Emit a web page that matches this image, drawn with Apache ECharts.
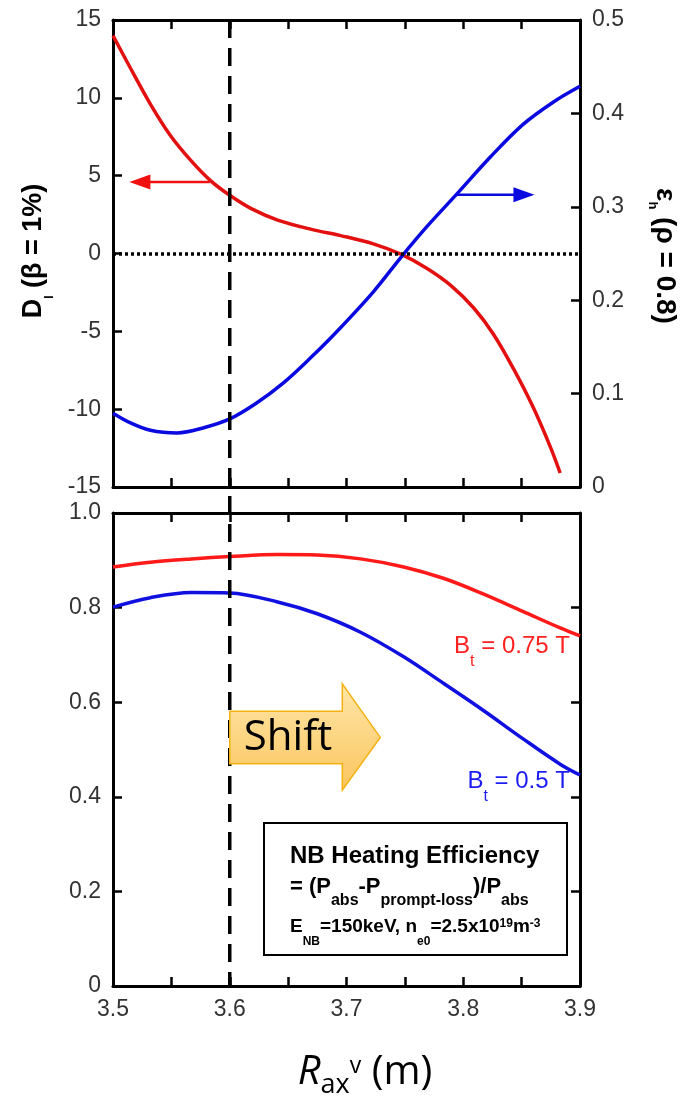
<!DOCTYPE html>
<html>
<head>
<meta charset="utf-8">
<script src="https://cdn.jsdelivr.net/npm/echarts@6/dist/echarts.min.js"></script>
<style>
html, body { margin: 0; padding: 0; background: #fff; }
#chart { width: 688px; height: 1097px; }
</style>
</head>
<body>
<div id="chart"></div>
<script>
// upper panel: D_I (left axis) and eps_h (right axis) vs R_ax
const rD = [3.5, 3.515, 3.532, 3.549, 3.567, 3.584, 3.6, 3.618, 3.641, 3.67, 3.695, 3.723, 3.747, 3.769, 3.789, 3.809, 3.826, 3.843, 3.86, 3.875, 3.883];
const dI = [14.0, 11.9, 9.6, 7.6, 5.95, 4.65, 3.74, 2.9, 2.15, 1.55, 1.15, 0.62, -0.06, -0.96, -2.03, -3.5, -5.2, -7.4, -9.9, -12.5, -14.1];
const rEps = [3.5, 3.515, 3.532, 3.555, 3.577, 3.6, 3.623, 3.646, 3.669, 3.692, 3.723, 3.747, 3.769, 3.794, 3.823, 3.851, 3.877, 3.9];
const epsH = [0.079, 0.0686, 0.0607, 0.0579, 0.0632, 0.0729, 0.09, 0.1115, 0.138, 0.1668, 0.209, 0.2465, 0.279, 0.313, 0.353, 0.388, 0.412, 0.429];

// lower panel: NB heating efficiency
const rEff = [3.5, 3.532, 3.567, 3.6, 3.641, 3.675, 3.712, 3.749, 3.783, 3.817, 3.851, 3.883, 3.9];
const eff075 = [0.886, 0.896, 0.903, 0.908, 0.912, 0.911, 0.903, 0.886, 0.862, 0.829, 0.792, 0.757, 0.740];
const eff05 = [0.801, 0.821, 0.832, 0.831, 0.812, 0.787, 0.748, 0.696, 0.640, 0.583, 0.523, 0.469, 0.446];

// annotations (data units)
const rShift = 3.6;
const dArrow = [[3.583, 4.6], [3.514, 4.6]];
const epsArrow = [[3.794, 0.313], [3.861, 0.313]];
const shiftBody = { x0: 3.6, x1: 3.6964, tip: 3.7289, top: 0.581, bottom: 0.470, headTop: 0.639, headBottom: 0.414, mid: 0.5255 };
const btLabels = [
  { text: ' = 0.75 T', x: 3.8914, y: 0.70, color: '#ff2020' },
  { text: ' = 0.5 T', x: 3.8914, y: 0.414, color: '#1c1cf0' }
];

const SANS = '"Liberation Sans", Arial, sans-serif';
const OPEN = '"Open Sans", sans-serif';
const MID = {};
MID[SANS] = 0.3465;
MID[OPEN] = 0.388;

const zip = (xs, ys) => xs.map((x, i) => [x, ys[i]]);
const oneDec = v => (v === 0 ? '0' : v.toFixed(1));

const chart = echarts.init(document.getElementById('chart'));

const AXLINE = { color: '#000', width: 3 };
const TICK = { color: '#000', width: 2.5 };
const LABEL = { color: '#333', fontSize: 23, fontFamily: SANS };

function xAx(grid, pos, show) {
  return {
    type: 'value', gridIndex: grid, position: pos,
    min: 3.5, max: 3.9, interval: 0.1,
    axisLine: { onZero: false, lineStyle: AXLINE },
    axisTick: { inside: true, length: 9, lineStyle: TICK },
    minorTick: { show: true, splitNumber: 2, length: 9, lineStyle: TICK },
    splitLine: { show: false },
    axisLabel: Object.assign({ show: show, margin: 12, formatter: v => v.toFixed(1) }, LABEL)
  };
}

function yAx(grid, pos, min, max, step, show, fmt) {
  return {
    type: 'value', gridIndex: grid, position: pos,
    min: min, max: max, interval: step,
    axisLine: { onZero: false, lineStyle: AXLINE },
    axisTick: { inside: true, length: 9, lineStyle: TICK },
    splitLine: { show: false },
    axisLabel: Object.assign({ show: show, margin: 12, formatter: fmt }, LABEL)
  };
}

function curve(name, xi, yi, data, color) {
  return {
    name: name, type: 'line', xAxisIndex: xi, yAxisIndex: yi,
    data: data, smooth: 0.35, showSymbol: false,
    lineStyle: { color: color, width: 3.5 }
  };
}

const dSeries = curve('D_I', 0, 0, zip(rD, dI), '#e31010');
dSeries.markLine = {
  silent: true, symbol: 'none', label: { show: false },
  lineStyle: { color: '#000', type: [3, 3], width: 3.5 },
  data: [{ yAxis: 0 }]
};

const option = {
  animation: false,
  backgroundColor: '#fff',
  grid: [
    { left: 113, right: 108, top: 20, height: 467 },
    { left: 113, right: 108, top: 513, height: 473 }
  ],
  xAxis: [
    xAx(0, 'bottom', false),
    xAx(0, 'top', false),
    xAx(1, 'bottom', true),
    xAx(1, 'top', false)
  ],
  yAxis: [
    yAx(0, 'left', -15, 15, 5, true, v => String(v)),
    yAx(0, 'right', 0, 0.5, 0.1, true, oneDec),
    yAx(1, 'left', 0, 1, 0.2, true, oneDec),
    yAx(1, 'right', 0, 1, 0.2, false, oneDec)
  ],
  series: [
    dSeries,
    curve('eps_h', 0, 1, zip(rEps, epsH), '#0a0ae0'),
    curve('Bt=0.75T', 2, 2, zip(rEff, eff075), '#ff1a1a'),
    curve('Bt=0.5T', 2, 2, zip(rEff, eff05), '#1010e0')
  ]
};

chart.setOption(option);

// ---- annotations ----
const mctx = document.createElement('canvas').getContext('2d');
function fontOf(s) {
  return (s.it ? 'italic ' : '') + (s.w || 'normal') + ' ' + s.size + 'px ' + (s.f || SANS);
}
// lay out a row of text pieces (sub/superscripts) with baseline at local y = 0
function row(segs, color, align, z) {
  let x = 0;
  const items = segs.map(s => {
    const font = fontOf(s);
    mctx.font = font;
    const it = { x: x, s: s, font: font };
    x += mctx.measureText(s.t).width;
    return it;
  });
  const off = align === 'center' ? -x / 2 : align === 'right' ? -x : 0;
  return items.map(it => ({
    type: 'text', z: z,
    x: it.x + off,
    y: (it.s.dy || 0) - MID[it.s.f || SANS] * it.s.size,
    style: { text: it.s.t, font: it.font, fill: it.s.c || color, textAlign: 'left', textVerticalAlign: 'middle' }
  }));
}

function arrow(p0, p1, color) {
  const dx = p1[0] - p0[0], dy = p1[1] - p0[1];
  const len = Math.hypot(dx, dy), ux = dx / len, uy = dy / len;
  const hl = 21, hw = 7.5;
  const bx = p1[0] - ux * hl, by = p1[1] - uy * hl;
  return [
    { type: 'line', z: 10, shape: { x1: p0[0], y1: p0[1], x2: bx + ux * 2, y2: by + uy * 2 }, style: { stroke: color, lineWidth: 2.5 } },
    { type: 'polygon', z: 10, shape: { points: [p1, [bx - uy * hw, by + ux * hw], [bx + uy * hw, by - ux * hw]] }, style: { fill: color } }
  ];
}

const toTop = p => chart.convertToPixel({ xAxisIndex: 0, yAxisIndex: 0 }, p);
const toTopR = p => chart.convertToPixel({ xAxisIndex: 0, yAxisIndex: 1 }, p);
const toBot = p => chart.convertToPixel({ xAxisIndex: 2, yAxisIndex: 2 }, p);

const dashTop = toTop([rShift, 15]);
const dashBot = toBot([rShift, 0]);

const sb = shiftBody;
const shiftPts = [
  [sb.x0, sb.top], [sb.x1, sb.top], [sb.x1, sb.headTop], [sb.tip, sb.mid],
  [sb.x1, sb.headBottom], [sb.x1, sb.bottom], [sb.x0, sb.bottom]
].map(toBot);
const shiftCenter = toBot([(sb.x0 + sb.x1) / 2, sb.mid]);

const graphics = [];

graphics.push({
  type: 'line', z: 5,
  shape: { x1: dashTop[0], y1: dashTop[1], x2: dashBot[0], y2: dashBot[1] },
  style: { stroke: '#000', lineWidth: 3.5, lineDash: [18, 10] }
});

arrow(toTop(dArrow[0]), toTop(dArrow[1]), '#f01010').forEach(e => graphics.push(e));
arrow(toTopR(epsArrow[0]), toTopR(epsArrow[1]), '#0a0ae0').forEach(e => graphics.push(e));

graphics.push({
  type: 'polygon', z: 6,
  shape: { points: shiftPts },
  style: {
    fill: new echarts.graphic.LinearGradient(0, 0, 0, 1, [
      { offset: 0, color: '#fee6a8' },
      { offset: 1, color: '#fbc55e' }
    ]),
    stroke: '#f3b212', lineWidth: 1.5
  }
});
graphics.push({
  type: 'text', z: 7, x: shiftCenter[0] + 2, y: shiftCenter[1] + 1,
  style: { text: 'Shift', font: 'normal 42px ' + OPEN, fill: '#000', textAlign: 'center', textVerticalAlign: 'middle' }
});

// B_t labels
btLabels.forEach(b => {
  const p = toBot([b.x, b.y]);
  graphics.push({
    type: 'group', x: p[0], y: p[1],
    children: row([
      { t: 'B', size: 24 },
      { t: 't', size: 16, dy: 12 },
      { t: b.text, size: 24 }
    ], b.color, 'right', 10)
  });
});

// info box
graphics.push({
  type: 'rect', z: 10,
  shape: { x: 264, y: 823, width: 303, height: 132 },
  style: { fill: '#fff', stroke: '#000', lineWidth: 2 }
});
graphics.push({
  type: 'group', x: 290, y: 865,
  children: row([{ t: 'NB Heating Efficiency', size: 24, w: 'bold' }], '#000', 'left', 12)
});
graphics.push({
  type: 'group', x: 290, y: 895,
  children: row([
    { t: '= (P', size: 22, w: 'bold' },
    { t: 'abs', size: 16, w: 'bold', dy: 11 },
    { t: '-P', size: 22, w: 'bold' },
    { t: 'prompt-loss', size: 16, w: 'bold', dy: 11 },
    { t: ')/P', size: 22, w: 'bold' },
    { t: 'abs', size: 16, w: 'bold', dy: 11 }
  ], '#000', 'left', 12)
});
graphics.push({
  type: 'group', x: 290, y: 933,
  children: row([
    { t: 'E', size: 19, w: 'bold' },
    { t: 'NB', size: 12, w: 'bold', dy: 13 },
    { t: '=150keV, n', size: 19, w: 'bold' },
    { t: 'e0', size: 12, w: 'bold', dy: 13 },
    { t: '=2.5x10', size: 19, w: 'bold' },
    { t: '19', size: 12, w: 'bold', dy: -5 },
    { t: 'm', size: 19, w: 'bold' },
    { t: '-3', size: 12, w: 'bold', dy: -5 }
  ], '#000', 'left', 12)
});

// axis titles
graphics.push({
  type: 'group', x: 43, y: 251, rotation: Math.PI / 2,
  children: row([
    { t: 'D', size: 27, w: 'bold' },
    { t: 'I', size: 12, w: 'bold', dy: 11 },
    { t: ' (\u03b2 = 1%)', size: 27, w: 'bold' }
  ], '#000', 'center', 10)
});
graphics.push({
  type: 'group', x: 655, y: 256, rotation: -Math.PI / 2,
  children: row([
    { t: '\u03b5', size: 28, w: 'bold' },
    { t: 'h', size: 13, w: 'bold', dy: 7 },
    { t: ' (\u03c1 = 0.8)', size: 28, w: 'bold' }
  ], '#000', 'center', 10)
});
graphics.push({
  type: 'group', x: 365, y: 1088,
  children: row([
    { t: 'R', size: 40, it: true, f: OPEN },
    { t: 'ax', size: 27, f: OPEN, dy: 8 },
    { t: 'v', size: 23, f: OPEN, dy: -13 },
    { t: ' (m)', size: 40, f: OPEN }
  ], '#000', 'center', 10)
});

chart.setOption({ graphic: { elements: graphics } });

window.addEventListener('resize', () => chart.resize());
</script>
</body>
</html>
